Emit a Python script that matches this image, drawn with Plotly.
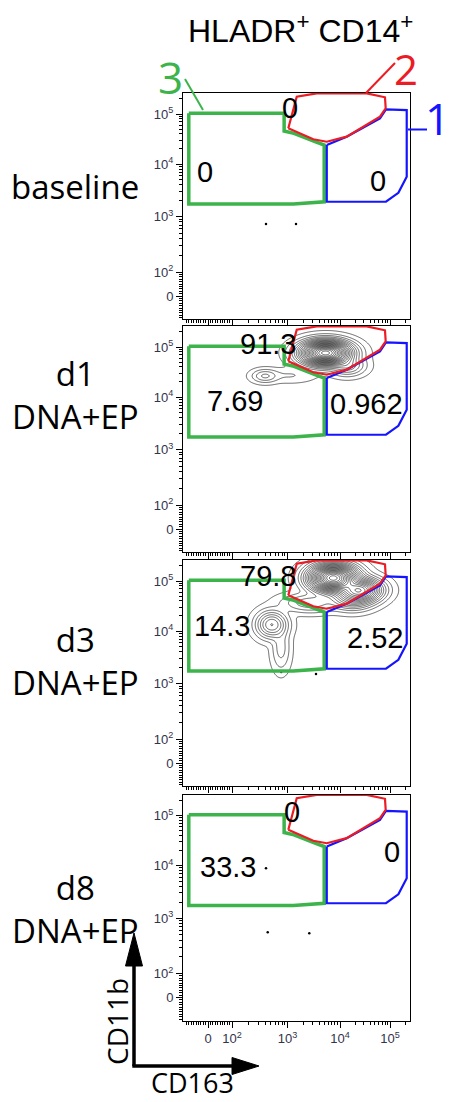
import numpy as np
import plotly.graph_objects as go

# the page body adds an 8 px margin, so the figure is drawn 8 px in
OFF = 8
W, H = 452 - OFF, 1102 - OFF

# biexponential-like display scale: channel position of each decade
DECADES = [2, 3, 4, 5]
DECADE_CH = [24, 79.5, 132, 182]

ROW_LABELS = ["baseline", "d1<br>DNA+EP", "d3<br>DNA+EP", "d8<br>DNA+EP"]
TITLE = "HLADR<sup>+</sup> CD14<sup>+</sup>"

# gate polygons (CD163, CD11b)
GATE3_X = [-80, 870, 870, 1330, 3340, 5000, 5000, 1290, -80, -80]
GATE3_Y = [103000, 103000, 45700, 41100, 27900, 24000, 1910, 1730, 1730, 103000]
GATE2_X = [1036, 1500, 3600, 34200, 79400, 82000, 63000, 13600, 5600, 3100, 1036]
GATE2_Y = [51800, 222000, 259000, 259000, 216000, 130000, 88300, 35200, 27900, 31200, 51800]
GATE1_X = [5600, 13600, 63000, 83000, 216000, 216000, 147000, 83000, 5600, 5600]
GATE1_Y = [24000, 35200, 82000, 124000, 120000, 5730, 2830, 1910, 1910, 24000]

# gate frequencies per sample: gate 3, gate 2, gate 1
GATE3_PCT = ["0", "7.69", "14.3", "33.3"]
GATE2_PCT = ["0", "91.3", "79.8", "0"]
GATE1_PCT = ["0", "0.962", "2.52", "0"]

# population clusters
BLOB_CD163 = [[], [5300, 14000, 394, 1100], [7400, 25000, 17400, 519, 764, 2680], []]
BLOB_CD11B = [[], [76000, 42000, 26300, 27000], [115000, 66000, 45700, 13400, 4740, 36300], []]
BLOB_WEIGHT = [[], [1.0, 0.06, 0.03, 0.006], [1.0, 0.45, 0.12, 0.12, 0.02, 0.04], []]
BLOB_SX = [[], [12.5, 9, 7, 14], [12, 11, 11, 8, 5, 15], []]
BLOB_SY = [[], [6.0, 5, 3.5, 4], [7, 6, 6, 7, 12, 5], []]

# isolated events
DOT_X = [[410, 1450], [], [770, 3490], [410, 440, 2600]]
DOT_Y = [[733, 733], [], [1660, 1510], [8900, 555, 532]]

MAJOR = [0, 100, 1000, 10000, 100000]
MAJOR_TEXT = ["0", "10<sup>2</sup>", "10<sup>3</sup>", "10<sup>4</sup>", "10<sup>5</sup>"]
MINOR = ([-v for v in range(10, 100, 10)] + list(range(10, 100, 10)) +
         [m * 10 ** e for e in range(2, 6) for m in range(2, 10)])


def to_ch(v):
    v = np.asarray(v, dtype=float)
    hi = v > 100
    lg = np.log10(np.where(hi, v, 100))
    ch = np.interp(lg, DECADES, DECADE_CH)
    ch = np.where(lg > 5, 182 + 50 * (lg - 5), ch)
    return np.where(hi, ch, 0.24 * v)


def px(x):
    return (x - OFF) / W


def py(y):
    return 1 - (y - OFF) / H


X_RANGE = [-25, 202]
Y_RANGE = [-23, 203]
PANEL_TOPS = [93, 326, 560, 794.5]
PANEL_H = 226

# gate label positions in channel units (gate3, gate2, gate1)
LABEL_POS = [
    [(-3, 124), (82, 188), (170, 115)],
    [(27, 128), (60, 185), (158.7, 125)],
    [(14, 137), (60, 187), (167, 125)],
    [(20, 131), (83.7, 186), (183.7, 146)],
]

GREEN, RED, BLUE = "#3cb44b", "#ec1c24", "#1414ff"
TICK_FONT = dict(family="Liberation Sans, Arial", size=13, color="#33334d")

fig = go.Figure()
gx = np.arange(X_RANGE[0], X_RANGE[1] + 0.5, 0.5)
gy = np.arange(Y_RANGE[0], Y_RANGE[1] + 0.5, 0.5)
XX, YY = np.meshgrid(gx, gy)

annotations = []
for i in range(4):
    n = "" if i == 0 else str(i + 1)
    xa, ya = "x" + n, "y" + n

    if BLOB_CD163[i]:
        z = np.zeros_like(XX)
        cxs = to_ch(BLOB_CD163[i])
        cys = to_ch(BLOB_CD11B[i])
        for cx, cy, w, sx, sy in zip(cxs, cys, BLOB_WEIGHT[i], BLOB_SX[i], BLOB_SY[i]):
            z += w * np.exp(-0.5 * (((XX - cx) / sx) ** 2 + ((YY - cy) / sy) ** 2))
        z = np.sqrt(z / z.max())
        fig.add_trace(go.Contour(
            x=gx, y=gy, z=z, xaxis=xa, yaxis=ya, showscale=False,
            contours=dict(start=0.03, end=0.99, size=0.045, coloring="lines"),
            colorscale=[[0, "black"], [1, "black"]], line=dict(width=0.6),
            hoverinfo="skip"))

    if DOT_X[i]:
        fig.add_trace(go.Scatter(x=to_ch(DOT_X[i]), y=to_ch(DOT_Y[i]), mode="markers",
                                 marker=dict(size=2.5, color="black"), xaxis=xa, yaxis=ya))

    for gxv, gyv, col, lw in [(GATE3_X, GATE3_Y, GREEN, 3.5),
                              (GATE1_X, GATE1_Y, BLUE, 2.2),
                              (GATE2_X, GATE2_Y, RED, 2.2)]:
        fig.add_trace(go.Scatter(x=to_ch(gxv), y=to_ch(gyv), mode="lines",
                                 line=dict(color=col, width=lw), xaxis=xa, yaxis=ya))

    for txt, (lx, ly) in zip([GATE3_PCT[i], GATE2_PCT[i], GATE1_PCT[i]], LABEL_POS[i]):
        annotations.append(dict(x=lx, y=ly, xref=xa, yref=ya, text=txt, showarrow=False,
                                xanchor="center", yanchor="middle",
                                font=dict(family="Liberation Sans, Arial", size=29, color="black")))

    top = PANEL_TOPS[i]
    ydom = [py(top + PANEL_H), py(top)]
    axis_common = dict(showline=True, mirror=True, linecolor="black", linewidth=1,
                       ticks="outside", ticklen=6, tickcolor="black", tickmode="array",
                       showgrid=False, zeroline=False, tickfont=TICK_FONT,
                       minor=dict(tickmode="array", tickvals=to_ch(MINOR).tolist(),
                                  ticks="outside", ticklen=3, tickcolor="black", showgrid=False))
    fig.layout["xaxis" + n] = dict(domain=[px(183), px(410)], range=X_RANGE, anchor=ya,
                                   tickvals=to_ch(MAJOR).tolist(), ticktext=MAJOR_TEXT,
                                   showticklabels=(i == 3), **axis_common)
    fig.layout["yaxis" + n] = dict(domain=ydom, range=Y_RANGE, anchor=xa,
                                   tickvals=to_ch(MAJOR).tolist(), ticktext=MAJOR_TEXT,
                                   **axis_common)


def paper_text(txt, x, y, size, color="black", family="Open Sans", angle=0, xanchor="center"):
    annotations.append(dict(x=px(x), y=py(y), xref="paper", yref="paper", text=txt,
                            showarrow=False, align="center", xanchor=xanchor, yanchor="middle",
                            textangle=angle, font=dict(family=family, size=size, color=color)))


# row labels
ROW_Y = [187, 395, 661, 909]
for lab, yy in zip(ROW_LABELS, ROW_Y):
    paper_text(lab, 75, yy, 33)

paper_text(TITLE, 300, 29, 32, family="Liberation Sans, Arial")

# gate numbers
paper_text("3", 170, 77, 44, color=GREEN)
paper_text("2", 406, 68, 42, color=RED)
paper_text("1", 452, 118, 44, color=BLUE, xanchor="right")

paper_text("CD11b", 117, 1022, 28, angle=-90)
paper_text("CD163", 192, 1082, 27)

shapes = []
for (x0, y0, x1, y1, col) in [(185, 79, 203, 110, GREEN), (395, 63, 366, 93, RED),
                              (408, 129.5, 427, 129.5, BLUE)]:
    shapes.append(dict(type="line", xref="paper", yref="paper", x0=px(x0), y0=py(y0),
                       x1=px(x1), y1=py(y1), line=dict(color=col, width=2)))

# axis arrows
shapes.append(dict(type="line", xref="paper", yref="paper", x0=px(134), y0=py(1066),
                   x1=px(134), y1=py(962), line=dict(color="black", width=3.5)))
shapes.append(dict(type="line", xref="paper", yref="paper", x0=px(132.3), y0=py(1066),
                   x1=px(234), y1=py(1066), line=dict(color="black", width=3.5)))
shapes.append(dict(type="path", xref="paper", yref="paper", fillcolor="black",
                   line=dict(color="black", width=1),
                   path=f"M {px(125.5)} {py(966)} L {px(142.5)} {py(966)} L {px(134)} {py(933)} Z"))
shapes.append(dict(type="path", xref="paper", yref="paper", fillcolor="black",
                   line=dict(color="black", width=1),
                   path=f"M {px(232)} {py(1057.5)} L {px(232)} {py(1074.5)} L {px(259)} {py(1066)} Z"))

fig.update_layout(width=W, height=H, margin=dict(l=0, r=0, t=0, b=0),
                  paper_bgcolor="white", plot_bgcolor="white", showlegend=False,
                  annotations=annotations, shapes=shapes)

fig.write_html("out.html")
